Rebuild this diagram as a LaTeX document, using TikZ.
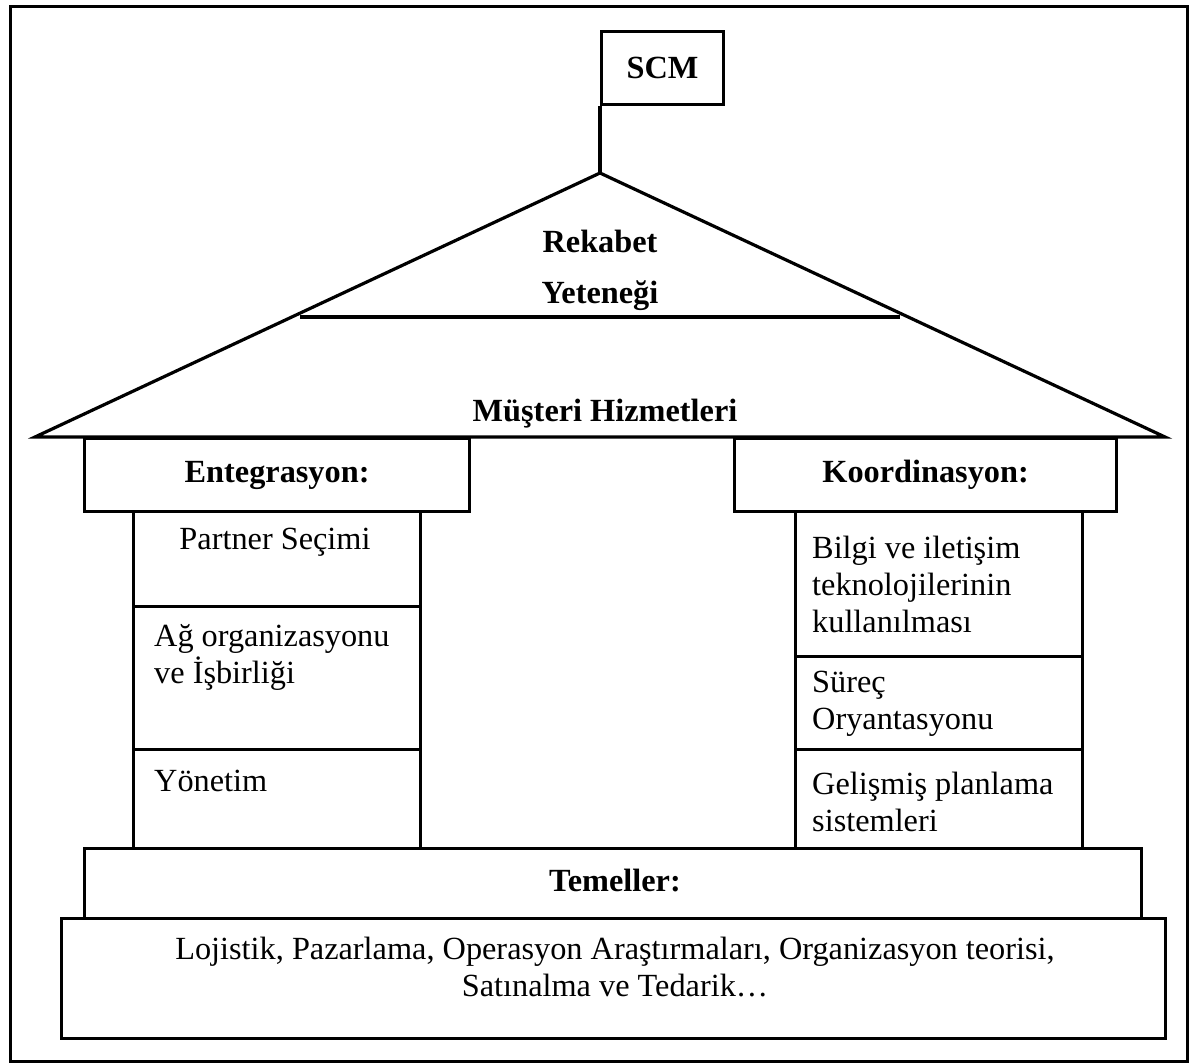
\documentclass[tikz,border=0pt]{standalone}
\usepackage{fontspec}
\setmainfont{Liberation Serif}
\begin{document}
\begin{tikzpicture}[x=1pt,y=-1pt,
  box/.style={draw, line width=3.2pt, inner sep=0pt, anchor=north west},
  txt/.style={font=\fontsize{32.3}{37}\selectfont, inner sep=0pt},
  btxt/.style={font=\fontsize{32.3}{37}\selectfont\bfseries, inner sep=0pt}]
\useasboundingbox (0,0) rectangle (1189,1064);
% outer frame
\node[box, minimum width=1177, minimum height=1055] (frame) at (9,5) {};
% flag
\node[box, minimum width=122, minimum height=73] (scm) at (600,30) {};
\node[btxt] (scmt) at (scm.center) {SCM};
% roof
\coordinate (apex) at (600,173);
\coordinate (rl) at (35,437);
\coordinate (rr) at (1165,437);
\draw[line width=3.2pt] (scm.south west) -- (apex);
\draw[line width=3.2pt, line join=miter] (rl) -- (apex) -- (rr) -- cycle;
\coordinate (il) at (300,317);
\coordinate (ir) at (900,317);
\draw[line width=3.2pt] (il) -- (ir);
\node[btxt] (rek) at (600,241) {Rekabet};
\node[btxt] (yet) at (600,296) {Yeteneği};
\node[btxt] (mus) at (605,414) {Müşteri Hizmetleri};
% left pillar
\node[box, minimum width=385, minimum height=73] (ent) at (83,437) {};
\node[btxt] (entt) at (ent.center) {Entegrasyon:};
\node[box, minimum width=287, minimum height=95] (l1) at (132,510) {};
\node[box, minimum width=287, minimum height=143] (l2) at (132,605) {};
\node[box, minimum width=287, minimum height=99] (l3) at (132,748) {};
\node[txt] (l1t) at (275,542) {Partner Seçimi};
\node[txt, align=left, anchor=west] (l2t) at (154,657) {Ağ organizasyonu\\ve İşbirliği};
\node[txt, anchor=west] (l3t) at (154,781) {Yönetim};
% right pillar
\node[box, minimum width=382, minimum height=73] (koo) at (733,437) {};
\node[btxt] (koot) at (koo.center) {Koordinasyon:};
\node[box, minimum width=287, minimum height=145] (r1) at (794,510) {};
\node[box, minimum width=287, minimum height=93] (r2) at (794,655) {};
\node[box, minimum width=287, minimum height=99] (r3) at (794,748) {};
\node[txt, align=left, anchor=west] (r1t) at (812,584) {Bilgi ve iletişim\\teknolojilerinin\\kullanılması};
\node[txt, align=left, anchor=west] (r2t) at (812,704) {Süreç\\Oryantasyonu};
\node[txt, align=left, anchor=west] (r3t) at (812,802) {Gelişmiş planlama\\sistemleri};
% foundation
\node[box, minimum width=1057, minimum height=70] (tem) at (83,847) {};
\node[btxt] (temt) at (615,881) {Temeller:};
\node[box, minimum width=1104, minimum height=120] (bot) at (60,917) {};
\node[txt, align=center] (bott) at (615,967) {Lojistik, Pazarlama, Operasyon Araştırmaları, Organizasyon teorisi,\\Satınalma ve Tedarik…};
\end{tikzpicture}
\end{document}
